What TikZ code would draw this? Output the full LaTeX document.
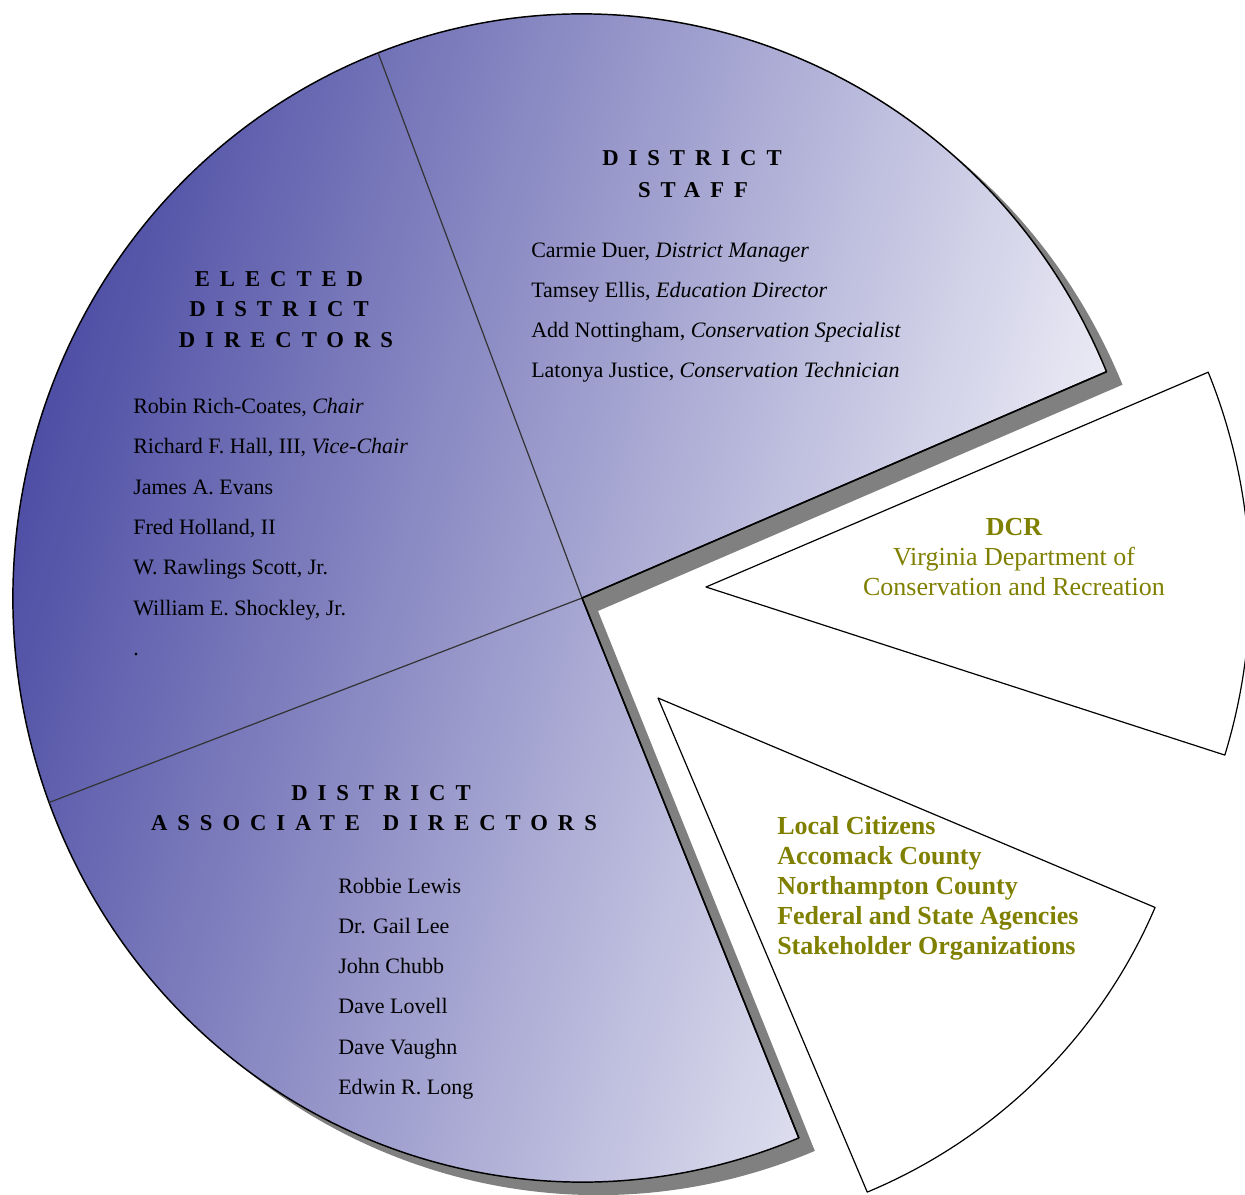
\documentclass[tikz,border=0pt]{standalone}
\usepackage{fontspec}
\setmainfont{Liberation Serif}
\usepackage{tikz}

\definecolor{pieDark}{RGB}{64,64,158}
\definecolor{pieLight}{RGB}{250,250,253}
\definecolor{shadowGray}{RGB}{128,128,128}
\definecolor{oliveText}{RGB}{128,128,0}

\newcommand{\headfont}{\fontsize{17}{20}\selectfont\bfseries\addfontfeature{LetterSpace=44}}
\newcommand{\namefont}{\fontsize{16.5}{20}\selectfont}
\newcommand{\olivefont}{\fontsize{19.5}{23}\selectfont}

\begin{document}
\begin{tikzpicture}[x=0.75pt,y=0.75pt,yscale=-1,xscale=1,
    rimline/.style={draw=black, line width=1.1pt, line join=round},
    divline/.style={draw=black!80, line width=0.9pt},
    slice/.style={draw=black, fill=white, line width=0.9pt, line join=round},
    headtext/.style={anchor=base, inner sep=0pt, font=\headfont},
    nametext/.style={anchor=base west, inner sep=0pt, font=\namefont},
    dcrtext/.style={anchor=base, inner sep=0pt, font=\olivefont, text=oliveText},
    publictext/.style={anchor=base west, inner sep=0pt, font=\olivefont\bfseries, text=oliveText}]
        %set diagram to the size of the page
        \useasboundingbox (0,0) rectangle (1245,1195);
        \clip (0,0) rectangle (1245,1195);

        \coordinate (ctr) at (582,598);
        \coordinate (shadowCtr) at (598,611);
        \coordinate (dcrTip) at (706,587);
        \coordinate (pubTip) at (658,698);

        %Shadow of the pie
        \fill [shadowGray] (shadowCtr) -- ++(-22.8:569 and 584) arc [start angle=-22.8, end angle=-292.4, x radius=569, y radius=584] -- cycle;
        %Pie
        \path [rimline, left color=pieDark, right color=pieLight, shading angle=74] (ctr) -- ++(-22.8:569 and 584) coordinate (rimStaff) arc [start angle=-22.8, end angle=-292.4, x radius=569, y radius=584] coordinate (rimAssoc) -- cycle;
        %Dividers
        \path (ctr) ++(-111:569 and 584) coordinate (rimElect);
        \path (ctr) ++(-200.5:569 and 584) coordinate (rimLeft);
        \draw [divline] (ctr) -- (rimElect);
        \draw [divline] (ctr) -- (rimLeft);
        \draw [rimline] (rimStaff) -- (ctr) -- (rimAssoc);

        %Exploded slices
        \draw [slice] (dcrTip) -- ++(-22.6:544 and 559) arc [start angle=-22.6, end angle=17.5, x radius=544, y radius=559] -- cycle;
        \draw [slice] (pubTip) -- ++(23:540 and 536) arc [start angle=23, end angle=67.2, x radius=540, y radius=536] -- cycle;

        % Text Node
        \node [headtext] (elecA) at (279,286) {ELECTED};
        \node [headtext] (elecB) at (279,316) {DISTRICT};
        \node [headtext] (elecC) at (286,347) {DIRECTORS};
        % Text Node
        \node [nametext] (elec1) at (133,413) {Robin Rich-Coates, \textit{Chair}};
        \node [nametext] (elec2) at (133,453) {Richard F. Hall, III, \textit{Vice-Chair}};
        \node [nametext] (elec3) at (133,494) {James A. Evans};
        \node [nametext] (elec4) at (133,534) {Fred Holland, II};
        \node [nametext] (elec5) at (133,574) {W. Rawlings Scott, Jr.};
        \node [nametext] (elec6) at (133,615) {William E. Shockley, Jr.};
        \node [nametext] (elec7) at (133,655) {.};

        % Text Node
        \node [headtext] (staffA) at (692,166) {DISTRICT};
        \node [headtext] (staffB) at (693,197) {STAFF};
        % Text Node
        \node [nametext] (staff1) at (531,257) {Carmie Duer, \textit{District Manager}};
        \node [nametext] (staff2) at (531,297) {Tamsey Ellis, \textit{Education Director}};
        \node [nametext] (staff3) at (531,337) {Add Nottingham, \textit{Conservation Specialist}};
        \node [nametext] (staff4) at (531,377) {Latonya Justice, \textit{Conservation Technician}};

        % Text Node
        \node [headtext] (assocA) at (381,800) {DISTRICT};
        \node [headtext] (assocB) at (374,830) {ASSOCIATE\hspace{1em}DIRECTORS};
        % Text Node
        \node [nametext] (assoc1) at (338,893) {Robbie Lewis};
        \node [nametext] (assoc2) at (338,933) {Dr. Gail Lee};
        \node [nametext] (assoc3) at (338,973) {John Chubb};
        \node [nametext] (assoc4) at (338,1013) {Dave Lovell};
        \node [nametext] (assoc5) at (338,1054) {Dave Vaughn};
        \node [nametext] (assoc6) at (338,1094) {Edwin R. Long};

        % Text Node
        \node [dcrtext, font=\olivefont\bfseries] (dcrA) at (1014,535) {DCR};
        \node [dcrtext] (dcrB) at (1014,565) {Virginia Department of};
        \node [dcrtext] (dcrC) at (1014,595) {Conservation and Recreation};

        % Text Node
        \node [publictext] (pub1) at (777,834) {Local Citizens};
        \node [publictext] (pub2) at (777,864) {Accomack County};
        \node [publictext] (pub3) at (777,894) {Northampton County};
        \node [publictext] (pub4) at (777,924) {Federal and State Agencies};
        \node [publictext] (pub5) at (777,954) {Stakeholder Organizations};

\end{tikzpicture}
\end{document}
